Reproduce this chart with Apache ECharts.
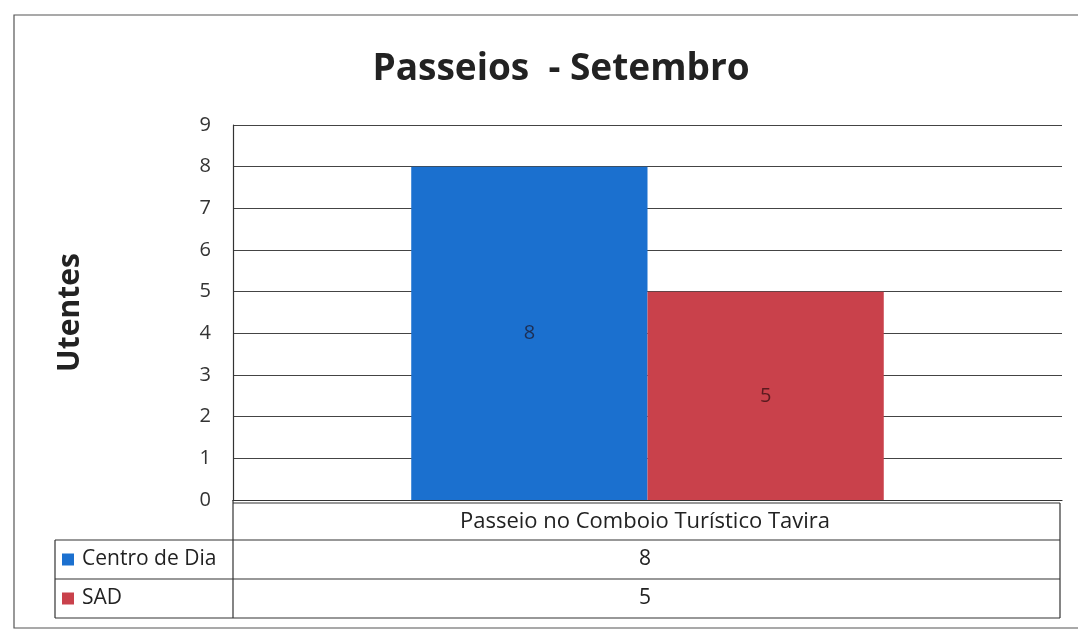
<!DOCTYPE html>
<html>
<head>
<meta charset="utf-8">
<script src="https://cdn.jsdelivr.net/npm/echarts@6/dist/echarts.min.js"></script>
<style>
  html, body { margin: 0; padding: 0; background: #fff; }
  #chart { width: 1078px; height: 630px; }
</style>
</head>
<body>
<div id="chart"></div>
<script>
// dados do gráfico
const categorias = ['Passeio no Comboio Turístico Tavira'];
const seriesNomes = ['Centro de Dia', 'SAD'];
const centroDeDia = [8];
const sad = [5];
const cores = ['#1b70cf', '#c9414b'];

const chart = echarts.init(document.getElementById('chart'));

// tabela de dados por baixo do eixo (como no Excel)
const tabL = 233, tabLegL = 55, tabR = 1060;
const rows = [503, 540, 579, 618];
const lineStyle = { stroke: '#333', lineWidth: 1.2 };
const font = '21px "Open Sans", sans-serif';

const graphics = [
  // moldura
  { type: 'rect', shape: { x: 14, y: 15, width: 1080, height: 613 }, style: { fill: 'none', stroke: '#555', lineWidth: 1.2 }, silent: true },
  // linhas da tabela
  { type: 'line', shape: { x1: tabL, y1: 500, x2: tabL, y2: rows[3] }, style: lineStyle },
  { type: 'line', shape: { x1: tabR, y1: rows[0], x2: tabR, y2: rows[3] }, style: lineStyle },
  { type: 'line', shape: { x1: tabLegL, y1: rows[1], x2: tabLegL, y2: rows[3] }, style: lineStyle },
  { type: 'line', shape: { x1: tabL, y1: rows[0], x2: tabR, y2: rows[0] }, style: lineStyle },
  { type: 'line', shape: { x1: tabLegL, y1: rows[1], x2: tabR, y2: rows[1] }, style: lineStyle },
  { type: 'line', shape: { x1: tabLegL, y1: rows[2], x2: tabR, y2: rows[2] }, style: lineStyle },
  { type: 'line', shape: { x1: tabLegL, y1: rows[3], x2: tabR, y2: rows[3] }, style: lineStyle },
  // cabeçalho
  { type: 'text', x: 645, y: (rows[0] + rows[1]) / 2,
    style: { text: categorias[0], font: '22px "Open Sans", sans-serif', fill: '#222', align: 'center', verticalAlign: 'middle' } }
];

const valores = [centroDeDia, sad];
seriesNomes.forEach(function (nome, i) {
  const yc = (rows[i + 1] + rows[i + 2]) / 2;
  graphics.push(
    { type: 'rect', shape: { x: 62, y: yc - 6, width: 12, height: 12 }, style: { fill: cores[i] } },
    { type: 'text', x: 82, y: yc, style: { text: nome, font: font, fill: '#222', verticalAlign: 'middle' } },
    { type: 'text', x: 645, y: yc, style: { text: String(valores[i][0]), font: font, fill: '#222', align: 'center', verticalAlign: 'middle' } }
  );
});

chart.setOption({
  backgroundColor: '#fff',
  animation: false,
  title: {
    text: 'Passeios  - Setembro',
    left: 556,
    textAlign: 'center',
    top: 46,
    textStyle: { fontFamily: 'Open Sans', fontWeight: 'bold', fontSize: 37, color: '#222' }
  },
  grid: { left: 233, right: 16, top: 125, bottom: 130 },
  xAxis: {
    type: 'category',
    data: categorias,
    axisLine: { lineStyle: { color: '#333', width: 1.2 } },
    axisTick: { show: false },
    axisLabel: { show: false }
  },
  yAxis: {
    type: 'value',
    name: 'Utentes',
    nameLocation: 'middle',
    nameGap: 148,
    nameTextStyle: { fontFamily: 'Open Sans', fontWeight: 'bold', fontSize: 30, color: '#222' },
    min: 0, max: 9, interval: 1,
    axisLine: { show: true, lineStyle: { color: '#333', width: 1.2 } },
    axisTick: { show: false },
    axisLabel: { fontFamily: 'Open Sans', fontSize: 20, color: '#333', margin: 22 },
    splitLine: { lineStyle: { color: '#444', width: 1.2 } }
  },
  series: [
    {
      name: seriesNomes[0], type: 'bar', data: centroDeDia,
      barGap: '0%', barCategoryGap: '43%',
      itemStyle: { color: cores[0] },
      label: { show: true, position: 'inside', color: '#1d2f55', fontSize: 20, fontFamily: 'Open Sans' }
    },
    {
      name: seriesNomes[1], type: 'bar', data: sad,
      barGap: '0%', barCategoryGap: '43%',
      itemStyle: { color: cores[1] },
      label: { show: true, position: 'inside', color: '#5a1a1f', fontSize: 20, fontFamily: 'Open Sans' }
    }
  ],
  graphic: graphics
});
</script>
</body>
</html>
